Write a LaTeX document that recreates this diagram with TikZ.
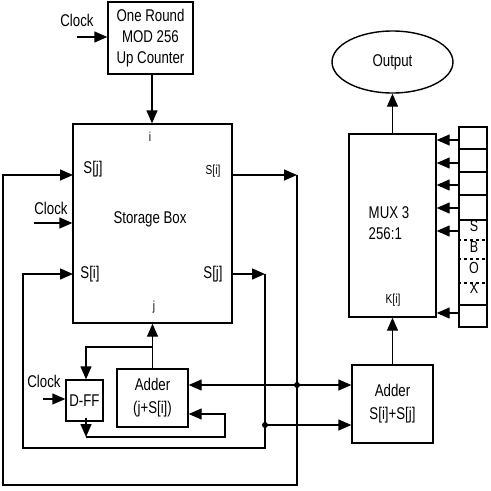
\documentclass[tikz,border=0pt]{standalone}
\usepackage{fontspec}
\setmainfont{Liberation Sans}
\newfontfamily\tallfont[FakeStretch=0.78]{Liberation Sans}
\usepackage{tikz}
\usetikzlibrary{shapes.geometric, arrows.meta, positioning}

\begin{document}
\begin{tikzpicture}[
  x=1pt, y=-1pt,
  line width=1.4pt,
  font=\tallfont\fontsize{17}{21}\selectfont,
  box/.style={draw, align=center, inner sep=0pt},
  port/.style={font=\tallfont\fontsize{13}{13}\selectfont, inner sep=0pt},
  arrow/.style={-{Triangle[length=13pt, width=11pt]}},
  arrows2/.style={{Triangle[length=13pt, width=11pt]}-{Triangle[length=13pt, width=11pt]}},
  dot/.style={circle, fill, inner sep=0pt, minimum size=6pt}
]
\useasboundingbox (0,0) rectangle (491,491);

% blocks
\node[box, minimum width=85pt, minimum height=72pt] (counter) at (150.5,38) {One Round\\MOD 256\\Up Counter};
\node[box, minimum width=159pt, minimum height=199pt] (storage) at (152.5,223.5) {};
\node at (150,219) {Storage Box};
\node[box, minimum width=71pt, minimum height=58pt, font=\tallfont\fontsize{17}{23}\selectfont] (adderA) at (152.5,398) {Adder\\(j+S[i])};
\node[box, minimum width=37pt, minimum height=41pt] (dff) at (84.5,400.5) {D-FF};
\node[box, minimum width=81pt, minimum height=78pt, font=\tallfont\fontsize{17}{23}\selectfont] (adderB) at (392.5,404) {Adder\\S[i]+S[j]};
\node[box, minimum width=87pt, minimum height=183pt] (mux) at (392.5,225.5) {};
\node[align=left] at (389,223) {MUX 3\\256:1};
\node[draw, ellipse, minimum width=121pt, minimum height=62pt, inner sep=0pt] (out) at (392.5,62) {Output};
\node[box, minimum width=28pt, minimum height=200pt] (sbox) at (473,227) {};

% port labels
\node at (93,169) {S[j]};
\node at (90,274) {S[i]};
\node at (213,274) {S[j]};
\node[port] at (213,171) {S[i]};
\node[port] at (150,137) {i};
\node[port] at (154,307) {j};
\node[port] at (393,300) {K[i]};

% clocks
\node (clkA) at (77,20) {Clock};
\node (clkB) at (51,208) {Clock};
\node (clkC) at (44,381) {Clock};
\draw[arrow] (77,37) -- (counter.west |- 0,37);
\draw[arrow] (34,223) -- (storage.west |- 0,223);
\draw[arrow] (43,399) -- (dff.west |- 0,399);

% storage box ports
\coordinate (siR) at (232,175);
\coordinate (sjR) at (232,274);
\coordinate (sjL) at (73,175);
\coordinate (siL) at (73,274);
\coordinate (jA) at (297,385);
\coordinate (jB) at (265,425);

\draw[arrow] (counter.south -| 152,0) -- (storage.north -| 152,0);
\draw[arrow] (siR) -- (297,175);
\draw[arrow] (297,175) -- (297,485) -- (3,485) -- (3,175) -- (sjL);
\draw[arrow] (sjR) -- (265,274);
\draw[arrow] (265,274) -- (265,448) -- (23,448) -- (23,274) -- (siL);

% adders
\draw[arrow] (adderA.north) -- (storage.south);
\draw[arrow] (152,347) -- (86,347) -- (dff.north -| 86,0);
\draw[arrow] (dff.south -| 86,0) ++(0,-4) -- (86,437);
\draw[arrow] (86,437) -- (225,437) -- (225,414) -- (adderA.east |- 0,414);
\draw[arrows2] (adderA.east |- jA) -- (adderB.west |- jA);
\draw[arrow] (jB) -- (adderB.west |- jB);
\node[dot] at (jA) {};
\node[dot] at (jB) {};

% mux
\draw[arrow] (adderB.north) -- (mux.south);
\draw[arrow] (mux.north) -- (out.south);

% s-box column
\foreach \y in {149,172,195,220,305}
  \draw (sbox.west |- 0,\y) -- (sbox.east |- 0,\y);
\foreach \y in {240,259,283}
  \draw[dashed] (sbox.west |- 0,\y) -- (sbox.east |- 0,\y);
\node[port, font=\tallfont\fontsize{16}{16}\selectfont] at (474,226) {S};
\node[port, font=\tallfont\fontsize{16}{16}\selectfont] at (474,247) {B};
\node[port, font=\tallfont\fontsize{16}{16}\selectfont] at (474,268) {O};
\node[port, font=\tallfont\fontsize{16}{16}\selectfont] at (474,288) {X};
\foreach \y in {140,163,185,208,231,313}
  \draw[arrow] (sbox.west |- 0,\y) -- (mux.east |- 0,\y);
\end{tikzpicture}
\end{document}
